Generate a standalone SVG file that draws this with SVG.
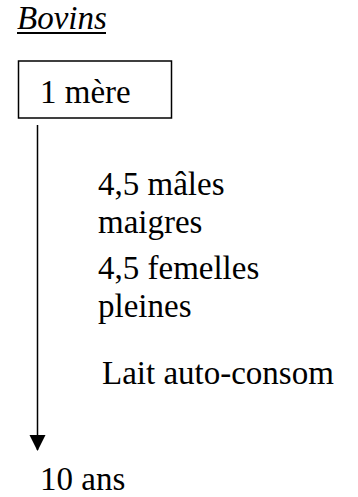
<svg xmlns="http://www.w3.org/2000/svg" width="358" height="497" viewBox="0 0 358 497">
<style>
text{font-family:"Liberation Serif","Times New Roman",serif;font-size:33px;fill:#000}
.it{font-style:italic}
.box{fill:#fff;stroke:#000;stroke-width:1.5}
.ln{stroke:#000;stroke-width:1.5;fill:none}
</style>
<defs>
<marker id="ah" markerUnits="userSpaceOnUse" markerWidth="16" markerHeight="18" refX="15" refY="8" orient="auto" viewBox="0 0 16 16">
<path d="M0,0 L16,8 L0,16 Z" fill="#000"/>
</marker>
</defs>
<rect width="358" height="497" fill="#fff"/>
<g id="title">
<text class="it" x="17" y="29">Bovins</text>
<line x1="17" y1="33" x2="106" y2="33" stroke="#000" stroke-width="2"/>
</g>
<g id="mere">
<rect class="box" x="18.5" y="61" width="153" height="57"/>
<text x="40" y="103">1 mère</text>
</g>
<g id="connectors">
<line class="ln" x1="37.5" y1="125" x2="37.5" y2="450" marker-end="url(#ah)"/>
</g>
<g id="labels">
<text x="98" y="195">4,5 mâles</text>
<text x="98" y="233">maigres</text>
<text x="98" y="279">4,5 femelles</text>
<text x="98" y="317">pleines</text>
<text x="102" y="384">Lait auto-consom</text>
</g>
<g id="fin">
<text x="40" y="490">10 ans</text>
</g>
</svg>
